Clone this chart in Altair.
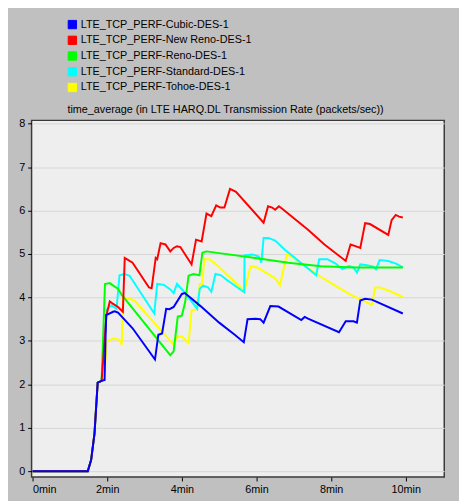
import altair as alt
import pandas as pd

# ---- data (minutes, packets/sec) ----
series_names = [
    "LTE_TCP_PERF-Cubic-DES-1",
    "LTE_TCP_PERF-New Reno-DES-1",
    "LTE_TCP_PERF-Reno-DES-1",
    "LTE_TCP_PERF-Standard-DES-1",
    "LTE_TCP_PERF-Tohoe-DES-1",
]
series_colors = ["#0000ff", "#ff0000", "#00ff00", "#00ffff", "#ffff00"]

start_t = [0, 1.48, 1.57, 1.66, 1.745, 1.85]
start_v = [0, 0, 0.26, 0.87, 2.04, 2.08]

cubic_t = [1.93, 1.97, 2.16, 2.2, 2.29, 2.68, 3.03, 3.28, 3.37, 3.47, 3.58, 3.67, 3.78, 4.0, 4.08,
           4.5, 5.0, 5.4, 5.66, 5.76, 5.97, 6.1, 6.19, 6.37, 6.59, 7.2, 7.29, 7.38, 8.21, 8.39,
           8.6, 8.69, 8.78, 8.91, 9.09, 9.92]
cubic_v = [2.1, 3.59, 3.67, 3.68, 3.65, 3.29, 2.87, 2.57, 3.14, 3.17, 3.74, 3.73, 3.78, 4.08, 4.1,
           3.8, 3.42, 3.15, 2.97, 3.5, 3.51, 3.5, 3.42, 3.8, 3.79, 3.48, 3.55, 3.51, 3.2, 3.45,
           3.45, 3.42, 3.93, 3.97, 3.95, 3.63]

newreno_t = [1.98, 2.07, 2.16, 2.29, 2.42, 2.47, 2.6, 2.68, 3.12, 3.19, 3.3, 3.34, 3.43, 3.56, 3.69,
             3.78, 3.87, 3.96, 4.26, 4.38, 4.53, 4.66, 4.79, 4.92, 5.03, 5.14, 5.29, 5.45, 6.19,
             6.31, 6.42, 6.5, 6.6, 6.68, 7.38, 7.82, 8.39, 8.52, 8.65, 8.78, 8.91, 9.04, 9.53,
             9.62, 9.73, 9.82, 9.92]
newreno_v = [3.59, 3.91, 3.85, 3.78, 3.67, 4.91, 4.84, 4.80, 4.23, 4.21, 4.91, 4.88, 5.25, 5.22, 5.06,
             5.14, 5.18, 5.16, 4.76, 5.33, 5.29, 5.93, 5.87, 6.12, 6.07, 6.07, 6.50, 6.43, 5.72,
             6.10, 6.07, 6.02, 6.10, 6.05, 5.56, 5.22, 4.84, 5.22, 5.18, 5.14, 5.71, 5.69, 5.44,
             5.78, 5.90, 5.86, 5.84]

reno_t = [1.94, 2.07, 2.18, 2.29, 2.39, 3.69, 3.78, 3.84, 3.89, 4.0, 4.09, 4.18, 4.31, 4.47, 4.55,
          4.66, 5.0, 5.97, 6.85, 7.73, 8.6, 9.92]
reno_v = [4.31, 4.33, 4.26, 4.2, 4.06, 2.67, 2.76, 3.2, 3.56, 3.58, 3.9, 4.5, 4.54, 4.51, 5.03,
          5.06, 5.02, 4.91, 4.80, 4.72, 4.69, 4.69]

standard_t = [1.99, 2.11, 2.25, 2.33, 2.47, 2.6, 3.26, 3.34, 3.52, 3.7, 3.78, 3.87, 4.03, 4.41, 4.48,
              4.57, 4.7, 4.79, 4.9, 5.05, 5.18, 5.67, 5.68, 5.89, 6.06, 6.13, 6.19, 6.32, 6.5, 6.76,
              7.6, 7.68, 7.9, 8.12, 8.3, 8.47, 8.6, 8.69, 8.78, 8.96, 9.13, 9.2, 9.3, 9.53, 9.74, 9.92]
standard_v = [3.72, 3.82, 3.74, 4.51, 4.54, 4.5, 3.63, 4.31, 4.29, 4.18, 4.1, 4.31, 4.16, 3.74, 4.2,
              4.27, 4.23, 4.13, 4.54, 4.51, 4.42, 4.12, 4.97, 4.99, 4.94, 4.80, 5.37, 5.37, 5.31, 5.10,
              4.51, 4.88, 4.88, 4.78, 4.65, 4.72, 4.69, 4.57, 4.76, 4.74, 4.71, 4.65, 4.86, 4.84, 4.78, 4.69]

tohoe_t = [1.92, 2.0, 2.07, 2.2, 2.33, 2.39, 2.42, 2.55, 2.73, 3.78, 3.87, 4.0, 4.18, 4.26, 4.39,
           4.48, 4.55, 4.6, 4.74, 4.92, 5.53, 5.67, 5.84, 6.02, 6.5, 6.63, 6.81, 6.94, 7.82, 8.5,
           9.09, 9.18, 9.3, 9.53, 9.92]
tohoe_v = [2.2, 3.02, 3.02, 3.06, 3.02, 2.91, 4.0, 3.98, 3.93, 2.91, 3.10, 3.10, 2.95, 3.70, 3.73,
           4.31, 4.31, 4.88, 4.88, 4.76, 4.27, 4.12, 4.72, 4.69, 4.44, 4.29, 4.99, 4.94, 4.42, 4.07,
           3.83, 4.23, 4.23, 4.16, 4.01]

y_ticks = [0, 1, 2, 3, 4, 5, 6, 7, 8]
x_ticks = [0, 2, 4, 6, 8, 10]

# ---- long table; Cubic last so it is drawn on top ----
tails = {
    series_names[4]: (tohoe_t, tohoe_v),
    series_names[3]: (standard_t, standard_v),
    series_names[2]: (reno_t, reno_v),
    series_names[1]: (newreno_t, newreno_v),
    series_names[0]: (cubic_t, cubic_v),
}
rows = []
for name, (tt, vv) in tails.items():
    for t, v in zip(start_t + tt, start_v + vv):
        rows.append({"series": name, "t": t, "v": v})
df = pd.DataFrame(rows)
df["idx"] = range(len(df))

FONT = "Liberation Sans"

x_enc = alt.X(
    "t:Q",
    scale=alt.Scale(domain=[-0.026, 11.03], nice=False, zero=False),
    axis=alt.Axis(
        values=x_ticks,
        labelExpr="datum.value + 'min'",
        title=None,
        grid=False,
        domain=False,
        tickColor="#000000",
        tickSize=4,
        labelColor="#000000",
        labelFont=FONT,
        labelFontSize=11,
        labelPadding=3,
    ),
)
y_enc = alt.Y(
    "v:Q",
    scale=alt.Scale(domain=[-0.136, 8.077], nice=False, zero=False),
    axis=alt.Axis(
        values=y_ticks,
        title="time_average (in LTE HARQ.DL Transmission Rate (packets/sec))",
        titleAngle=0,
        titleAlign="left",
        titleBaseline="alphabetic",
        titleX=36,
        titleY=-8,
        titleFont=FONT,
        titleFontSize=11,
        titleFontWeight="normal",
        titleColor="#000000",
        grid=True,
        gridColor="#d6d6d6",
        gridWidth=1,
        domain=False,
        tickColor="#000000",
        tickSize=4,
        labelColor="#000000",
        labelFont=FONT,
        labelFontSize=11,
        labelPadding=3,
    ),
)

legend_def = alt.Legend(
    orient="none",
    legendX=36,
    legendY=-103,
    title=None,
    symbolType="square",
    symbolSize=72,
    symbolStrokeColor="#000000",
    symbolStrokeWidth=1,
    symbolOpacity=1,
    labelFont=FONT,
    labelFontSize=11,
    labelColor="#000000",
    labelOffset=3,
    labelLimit=300,
    rowPadding=3,
    padding=0,
    direction="vertical",
)

lines = (
    alt.Chart(df)
    .mark_line(strokeWidth=2, clip=True)
    .encode(
        x=x_enc,
        y=y_enc,
        stroke=alt.Stroke(
            "series:N",
            scale=alt.Scale(domain=series_names, range=series_colors),
            legend=None,
        ),
        order=alt.Order("idx:Q"),
    )
)

legend_layer = (
    alt.Chart(df)
    .mark_square(opacity=0, size=1, stroke="#000000", strokeWidth=1)
    .encode(
        x="t:Q",
        y="v:Q",
        fill=alt.Fill(
            "series:N",
            scale=alt.Scale(domain=series_names, range=series_colors),
            legend=legend_def,
        ),
    )
)

chart = (
    alt.layer(legend_layer, lines)
    .properties(
        width=420,
        height=363,
        background="#c0c0c0",
        padding={"left": 24, "top": 110, "right": 15, "bottom": 20},
        autosize=alt.AutoSizeParams(type="none"),
    )
    .configure_view(fill="#eeeeee", stroke="#3a3a3a", strokeWidth=1.5)
)

chart.save("out.html", embed_options={"renderer": "svg", "actions": False})
